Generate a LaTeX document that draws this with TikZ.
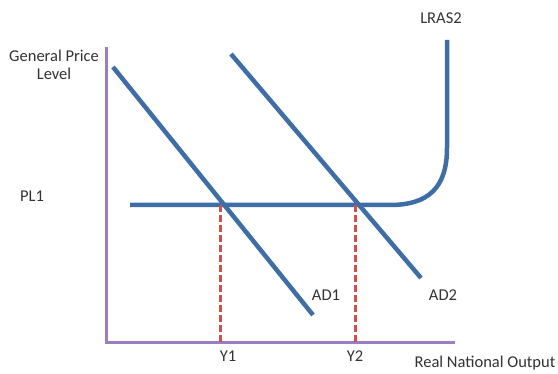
\documentclass[tikz,border=0pt]{standalone}
\usepackage{fontspec}
\setmainfont{Carlito}
\usetikzlibrary{positioning, calc}
\definecolor{cblue}{HTML}{3F6EA6}
\definecolor{cpurple}{HTML}{9B7EC0}
\definecolor{cred}{HTML}{D0504D}
\definecolor{ctext}{HTML}{333333}
\tikzset{
  every picture/.style={font=\fontsize{16.5}{19}\selectfont, line width=1.2pt},
  axis/.style={draw=cpurple, line width=3pt},
  curve/.style={draw=cblue, line width=4.5pt},
  guide/.style={draw=cred, line width=3pt, dash pattern=on 7pt off 3pt},
  lbl/.style={text=ctext, align=center, inner sep=1pt},
}

\begin{document}
\begin{tikzpicture}[x=1pt, y=-1pt]
  \useasboundingbox (0,0) rectangle (558,374);
  % axes
  \coordinate (o) at (106,343);
  \coordinate (ytop) at (106,47);
  \coordinate (xend) at (455,343);
  \draw[axis] (ytop) -- (o) -- (xend);
  % aggregate demand
  \coordinate (ad1a) at (113,67);
  \coordinate (ad1b) at (313,315);
  \coordinate (ad2a) at (231,54);
  \coordinate (ad2b) at (421,278);
  \draw[curve] (ad1a) -- (ad1b);
  \draw[curve] (ad2a) -- (ad2b);
  % long run aggregate supply
  \coordinate (lrasa) at (130,205);
  \coordinate (lrasb) at (390,205);
  \coordinate (lrasc) at (447,148);
  \coordinate (lrasd) at (447,40);
  \draw[curve] (lrasa) -- (lrasb) .. controls (428,205) and (447,188) .. (lrasc) -- (lrasd);
  % equilibrium output
  \coordinate (e1) at (220,205);
  \coordinate (e2) at (355,205);
  \draw[guide] (e1) -- (e1 |- o);
  \draw[guide] (e2) -- (e2 |- o);
  % labels
  \node[lbl] (gpl) at (54,65) {General Price\\[-1pt]Level};
  \node[lbl] (pl1) at (32,196) {PL1};
  \node[lbl] (y1) at (228,356) {Y1};
  \node[lbl] (y2) at (355,356) {Y2};
  \node[lbl] (rno) at (485,363) {Real National Output};
  \node[lbl] (ad1) at (326,295) {AD1};
  \node[lbl] (ad2) at (443,295) {AD2};
  \node[lbl] (lras) at (441,18) {LRAS2};
\end{tikzpicture}
\end{document}
